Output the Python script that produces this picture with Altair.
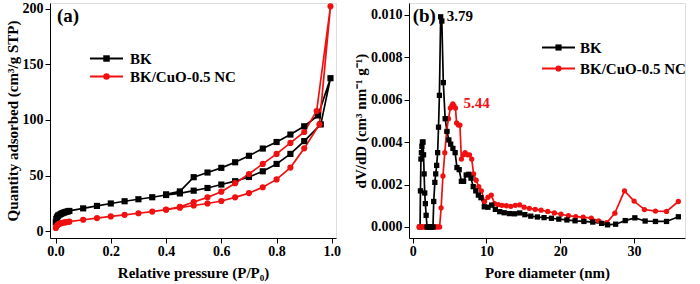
import altair as alt
import pandas as pd

# ---------------- Panel (a): N2 isotherms ----------------
low_p = [0.001, 0.003, 0.005, 0.008, 0.01, 0.015, 0.02, 0.025, 0.03, 0.035, 0.04, 0.045, 0.05]
mid_p = [0.1, 0.15, 0.2, 0.25, 0.3, 0.35, 0.4, 0.45, 0.5, 0.55, 0.6, 0.65, 0.7, 0.75, 0.8, 0.85, 0.9]

bk_ads_p = low_p + mid_p + [0.96, 0.995]
bk_ads_v = [8.0, 11.0, 12.5, 13.5, 14.3, 15.0, 15.7, 16.3, 16.8, 17.2, 17.6, 17.9, 18.3,
            20.6, 22.8, 25.0, 27.0, 28.8, 30.6, 32.6, 34.0, 36.5, 38.9, 42.0, 45.0, 48.8,
            53.9, 60.5, 69.5, 81.0, 96.0, 137.5]
bk_des_p = [0.95, 0.9, 0.85, 0.8, 0.75, 0.7, 0.65, 0.6, 0.55, 0.5, 0.45, 0.4]
bk_des_v = [104.0, 94.3, 86.9, 80.2, 74.3, 67.8, 62.0, 57.0, 52.8, 48.6, 35.8, 33.2]

cu_ads_p = low_p + mid_p + [0.955, 0.995]
cu_ads_v = [3.0, 4.2, 5.0, 5.8, 6.3, 6.9, 7.3, 7.6, 7.9, 8.1, 8.3, 8.5, 8.7,
            10.4, 11.9, 13.4, 14.8, 16.2, 17.7, 19.4, 21.2, 23.2, 25.0, 27.2, 30.5, 34.3,
            39.6, 46.6, 57.2, 74.5, 96.0, 202.0]
cu_des_p = [0.945, 0.9, 0.85, 0.8, 0.75, 0.7, 0.65, 0.6, 0.55, 0.5, 0.45, 0.4]
cu_des_v = [108.0, 89.2, 79.4, 69.5, 60.5, 51.5, 43.2, 35.6, 30.5, 26.3, 22.0, 19.6]

# ---------------- Panel (b): pore size distribution ----------------
bk_d = [1.0, 1.05, 1.12, 1.18, 1.25, 1.32, 1.4, 1.47, 1.55, 1.63, 1.72, 1.82, 1.95,
        2.15, 2.35, 2.55, 2.75, 2.85, 3.0, 3.12, 3.25, 3.38, 3.5, 3.62, 3.79, 3.95,
        4.15, 4.4, 4.65, 4.9, 5.15, 5.45, 5.75, 6.0, 6.3, 6.6, 6.9, 7.25, 7.6, 7.9,
        8.2, 8.55, 8.9, 9.25, 9.7, 10.2, 10.7, 11.2, 11.8, 12.4, 13.1, 13.8, 14.5,
        15.2, 16.0, 16.9, 17.8, 18.8, 19.8, 20.9, 22.0, 23.2, 24.4, 25.6, 26.4, 27.5,
        28.8, 30.1, 31.5, 32.9, 34.4, 36.0]
bk_dv = [0.0, 0.0017, 0.0032, 0.0035, 0.0038, 0.0040, 0.0040, 0.0034, 0.0025, 0.0016,
         0.0011, 0.00055, 0.0, 0.0, 0.0, 0.0, 0.0, 0.0012, 0.0021, 0.0025, 0.0029,
         0.0035, 0.0047, 0.0062, 0.0099, 0.0097, 0.0068, 0.0051, 0.0045, 0.0041,
         0.0039, 0.0037, 0.0035, 0.0028, 0.0027, 0.00215, 0.00215, 0.00245, 0.00248,
         0.0023, 0.0019, 0.0017, 0.0015, 0.00138, 0.00095, 0.00093, 0.00103, 0.00083,
         0.00072, 0.00067, 0.00063, 0.00062, 0.00066, 0.00058, 0.00051, 0.00047,
         0.00044, 0.00041, 0.00037, 0.00033, 0.00029, 0.00026, 0.00023, 0.00017,
         0.0001, 0.00013, 0.0003, 0.00043, 0.00028, 0.00026, 0.00026, 0.00048]

cu_d = [0.85, 1.05, 1.25, 1.45, 1.65, 1.85, 2.05, 2.25, 2.45, 2.65, 2.85, 3.05, 3.25,
        3.45, 3.65, 3.85, 4.1, 4.35, 4.6, 4.85, 5.1, 5.3, 5.44, 5.6, 5.8, 5.95, 6.2,
        6.4, 6.6, 6.85, 7.1, 7.4, 7.7, 8.0, 8.25, 8.6, 8.95, 9.3, 9.75, 10.2, 10.65,
        11.1, 11.6, 12.1, 12.7, 13.3, 13.9, 14.5, 15.1, 15.8, 16.6, 17.4, 18.3, 19.2,
        20.1, 21.1, 22.1, 23.1, 24.2, 25.2, 26.3, 27.4, 28.7, 30.0, 31.4, 32.9, 34.4, 36.0]
cu_dv = [0.0, 0.0, 0.0, 0.0, 0.0, 0.0, 0.0, 0.0, 0.0, 0.0, 0.0, 0.0, 0.0, 0.0, 0.0,
         0.0009, 0.0024, 0.0035, 0.0045, 0.0051, 0.0056, 0.0057, 0.0058, 0.0057, 0.0056,
         0.0049, 0.0048, 0.0048, 0.0032, 0.0034, 0.0035, 0.0034, 0.0034, 0.0032, 0.0025,
         0.0022, 0.0019, 0.0017, 0.0012, 0.0014, 0.0015, 0.0011, 0.00105, 0.00102, 0.001,
         0.00097, 0.00102, 0.00104, 0.00093, 0.00088, 0.00083, 0.00079, 0.00073, 0.00066,
         0.0006, 0.00053, 0.00049, 0.00046, 0.00042, 0.00028, 0.0002, 0.00065, 0.0017,
         0.00122, 0.00082, 0.00075, 0.00073, 0.0012]

series_names = ["BK", "BK/CuO-0.5 NC"]
series_colors = ["#000000", "#f01010"]
series_shapes = ["square", "circle"]

# annotation texts (anchored in data units)
a_tag = {"t": ["(a)"], "x": [0.005], "y": [193.0]}
b_tag = {"t": ["(b)"], "x": [0.0], "y": [0.00993]}
b_peaks = {"t": ["3.79", "5.44"], "x": [4.6, 6.9], "y": [0.00993, 0.00585],
           "s": series_names}

FONT = "Liberation Serif"

rows_a = []
for name, ap, av, dp, dv in [(series_names[0], bk_ads_p, bk_ads_v, bk_des_p, bk_des_v),
                             (series_names[1], cu_ads_p, cu_ads_v, cu_des_p, cu_des_v)]:
    for i, (p, v) in enumerate(zip(ap + dp, av + dv)):
        rows_a.append({"series": name, "p": p, "v": v, "idx": i})
df_a = pd.DataFrame(rows_a)

rows_b = []
for name, d, dv in [(series_names[0], bk_d, bk_dv), (series_names[1], cu_d, cu_dv)]:
    for i, (x, y) in enumerate(zip(d, dv)):
        rows_b.append({"series": name, "d": x, "dv": y, "idx": i})
df_b = pd.DataFrame(rows_b)

color_scale = alt.Scale(domain=series_names, range=series_colors)
shape_scale = alt.Scale(domain=series_names, range=series_shapes)


def ticksize(test):
    return {"condition": {"test": test, "value": 5}, "value": 3}


AX = dict(labelFont=FONT, labelFontSize=14, labelFontWeight="bold", labelColor="black",
          titleFont=FONT, titleFontSize=15, titleFontWeight="bold", titleColor="black",
          domainColor="black", tickColor="black", grid=False, domainWidth=1, tickWidth=1,
          labelOverlap=False, labelFlush=False)


def key(x0, x1, ys, xt, size):
    """Hand-placed key (line + marker + label) in pixel units of the panel."""
    layers = []
    for name, col, shp, y in zip(series_names, series_colors, series_shapes, ys):
        d = pd.DataFrame({"name": [name]})
        layers.append(alt.Chart(d).mark_rule(color=col, strokeWidth=1.8).encode(
            x=alt.value(x0), x2=alt.value(x1), y=alt.value(y)))
        layers.append(alt.Chart(d).mark_point(filled=True, shape=shp, color=col,
                                              size=size, opacity=1).encode(
            x=alt.value((x0 + x1) / 2), y=alt.value(y)))
        layers.append(alt.Chart(d).mark_text(font=FONT, fontSize=15, fontWeight="bold",
                                             align="left", baseline="middle",
                                             color="black").encode(
            x=alt.value(xt), y=alt.value(y), text="name:N"))
    return layers


# ---- panel a ----
xa = alt.X("p:Q", scale=alt.Scale(domain=[-0.02, 1.015], nice=False, zero=False),
           axis=alt.Axis(title="Relative pressure (P/P\u2080)",
                         values=[i / 10 for i in range(11)],
                         labelExpr="round(datum.value*10) % 2 == 0 ? format(datum.value, '.1f') : ''",
                         tickSize=ticksize("round(datum.value*10) % 2 == 0"),
                         labelPadding=1, titlePadding=7, **AX))
ya = alt.Y("v:Q", scale=alt.Scale(domain=[-6, 205], nice=False, zero=False),
           axis=alt.Axis(title="Quantity adsorbed (cm\u00b3/g STP)",
                         values=list(range(0, 201, 25)),
                         labelExpr="datum.value % 50 == 0 ? format(datum.value, 'd') : ''",
                         tickSize=ticksize("datum.value % 50 == 0"),
                         labelPadding=2, titlePadding=2, **AX))

base_a = alt.Chart(df_a).encode(
    x=xa, y=ya, order=alt.Order("idx:Q"),
    color=alt.Color("series:N", scale=color_scale, legend=None))
line_a = base_a.mark_line(strokeWidth=1.7)
pts_a = base_a.mark_point(filled=True, size=38, opacity=1).encode(
    shape=alt.Shape("series:N", scale=shape_scale, legend=None))
tag_a = alt.Chart(pd.DataFrame(a_tag)).mark_text(
    font=FONT, fontSize=19, fontWeight="bold", align="left", baseline="middle", color="black"
).encode(x="x:Q", y="y:Q", text="t:N")
panel_a = alt.layer(line_a, pts_a, tag_a, *key(40, 73, [55.5, 73.5], 80, 42)).properties(
    width=286, height=235)

# ---- panel b ----
xb = alt.X("d:Q", scale=alt.Scale(domain=[-0.5, 36.9], nice=False, zero=False),
           axis=alt.Axis(title="Pore diameter (nm)",
                         values=[i * 2.5 for i in range(15)],
                         labelExpr="round(datum.value*2) % 10 == 0 ? format(datum.value, 'd') : ''",
                         tickSize=ticksize("round(datum.value*2) % 10 == 0"),
                         labelPadding=1, titlePadding=7, **AX))
yb = alt.Y("dv:Q", scale=alt.Scale(domain=[-0.00052, 0.01055], nice=False, zero=False),
           axis=alt.Axis(title="dV/dD (cm\u00b3 nm\u207b\u00b9 g\u207b\u00b9)",
                         values=[i / 1000 for i in range(11)],
                         labelExpr="round(datum.value*1000) % 2 == 0 ? format(datum.value, '.3f') : ''",
                         tickSize=ticksize("round(datum.value*1000) % 2 == 0"),
                         labelPadding=2, titlePadding=2, **AX))

base_b = alt.Chart(df_b).encode(
    x=xb, y=yb, order=alt.Order("idx:Q"),
    color=alt.Color("series:N", scale=color_scale, legend=None))
line_b = base_b.mark_line(strokeWidth=1.7)
pts_b = base_b.mark_point(filled=True, size=28, opacity=1).encode(
    shape=alt.Shape("series:N", scale=shape_scale, legend=None))
tag_b = alt.Chart(pd.DataFrame(b_tag)).mark_text(
    font=FONT, fontSize=19, fontWeight="bold", align="left", baseline="middle", color="black"
).encode(x="x:Q", y="y:Q", text="t:N")
peaks_b = alt.Chart(pd.DataFrame(b_peaks)).mark_text(
    font=FONT, fontSize=15, fontWeight="bold", align="left", baseline="middle"
).encode(x="x:Q", y="y:Q", text="t:N",
         color=alt.Color("s:N", scale=color_scale, legend=None))
panel_b = alt.layer(line_b, pts_b, tag_b, peaks_b,
                    *key(133, 166, [44.5, 65.5], 171, 38)).properties(width=276, height=235)

chart = alt.hconcat(panel_a, panel_b, spacing=11).resolve_scale(
    color="independent", shape="independent"
).properties(
    padding={"left": 4, "top": 1, "right": 0, "bottom": 0}
).configure_view(stroke="black", strokeWidth=1).configure(
    background="white", font=FONT
)

chart.save("out.html", embed_options={"renderer": "svg", "actions": False})
